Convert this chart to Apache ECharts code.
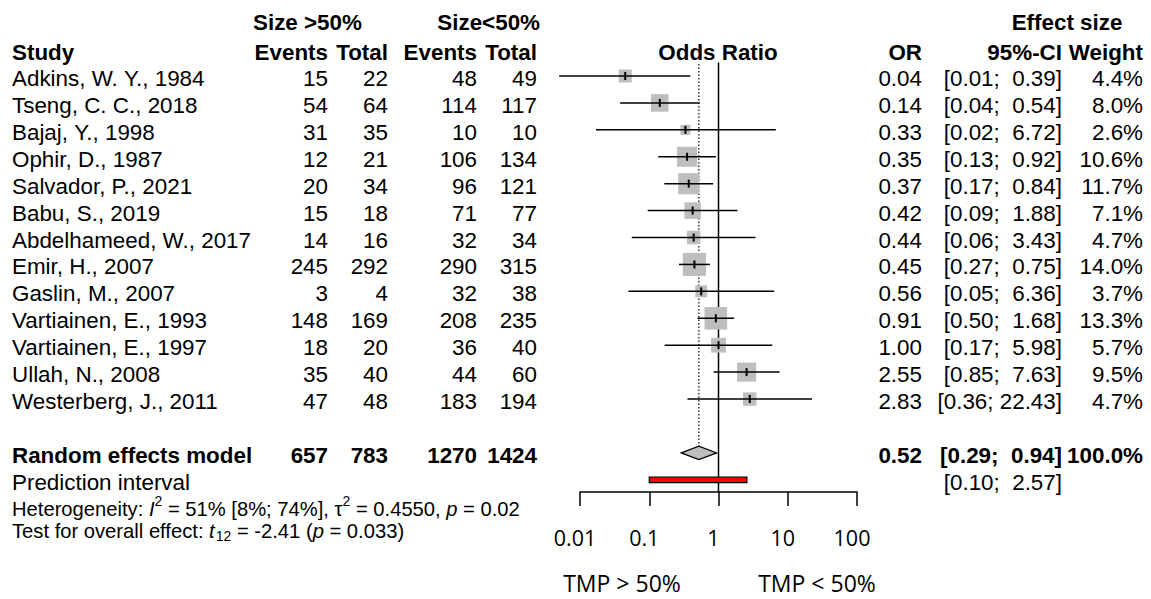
<!DOCTYPE html>
<html><head><meta charset="utf-8">
<script src="https://cdn.jsdelivr.net/npm/echarts@6/dist/echarts.min.js"></script>
<style>html,body{margin:0;padding:0;background:#fff}#c{width:1151px;height:599px}</style>
</head><body><div id="c"></div>
<script>
// ---------- data ----------
const studies = ['Adkins, W. Y., 1984','Tseng, C. C., 2018','Bajaj, Y., 1998','Ophir, D., 1987','Salvador, P., 2021','Babu, S., 2019','Abdelhameed, W., 2017','Emir, H., 2007','Gaslin, M., 2007','Vartiainen, E., 1993','Vartiainen, E., 1997','Ullah, N., 2008','Westerberg, J., 2011'];
const eventsHi = [15,54,31,12,20,15,14,245,3,148,18,35,47];
const totalHi  = [22,64,35,21,34,18,16,292,4,169,20,40,48];
const eventsLo = [48,114,10,106,96,71,32,290,32,208,36,44,183];
const totalLo  = [49,117,10,134,121,77,34,315,38,235,40,60,194];
const orValue  = [0.045,0.142,0.333,0.352,0.372,0.423,0.438,0.449,0.563,0.915,1.00,2.545,2.825];
const ciLower  = [0.005,0.038,0.017,0.135,0.165,0.095,0.056,0.269,0.050,0.498,0.167,0.849,0.356];
const ciUpper  = [0.392,0.537,6.72,0.918,0.838,1.881,3.43,0.751,6.36,1.68,5.98,7.63,22.43];
const weight   = [4.4,8.0,2.6,10.6,11.7,7.1,4.7,14.0,3.7,13.3,5.7,9.5,4.7];
const orLabel  = ['0.04','0.14','0.33','0.35','0.37','0.42','0.44','0.45','0.56','0.91','1.00','2.55','2.83'];
const loLabel  = ['0.01','0.04','0.02','0.13','0.17','0.09','0.06','0.27','0.05','0.50','0.17','0.85','0.36'];
const hiLabel  = ['0.39','0.54','6.72','0.92','0.84','1.88','3.43','0.75','6.36','1.68','5.98','7.63','22.43'];
const weightLabel = ['4.4%','8.0%','2.6%','10.6%','11.7%','7.1%','4.7%','14.0%','3.7%','13.3%','5.7%','9.5%','4.7%'];
const summaryTotals = [657, 783, 1270, 1424];
const summaryOR = [0.52, 0.29, 0.94];           // estimate, lower, upper
const summaryLabel = ['0.52','0.29','0.94','100.0%'];
const predInterval = [0.10, 2.57];
const predLabel = ['0.10','2.57'];
const tickLabels = ['0.01','0.1','1','10','100'];
const favourLabels = ['TMP > 50%','TMP < 50%'];

// ---------- layout ----------
const F = '"Liberation Sans", Arial, Helvetica, sans-serif';
const F2 = '"Open Sans", "Noto Sans", sans-serif';
const FS = 22.4;
const ROW0 = 76, ROWH = 26.92, AXIS_Y = 492;
const N = studies.length;
const RE_ROW = N + 1, PI_ROW = N + 2;
const yMin = -0.5, yMax = (AXIS_Y - ROW0) / ROWH;
const rowY = i => ROW0 + i * ROWH;
const TXT = 2.5;
const X = {study:12, ev1:328, tot1:388, ev2:477, tot2:537, or:922, ci:1062, w:1143};
const nb = s => String(s).replace(/ /g, '\u00a0');
const ci = (lo, hi) => nb('[' + lo + '; ') + String(hi).padStart(5, '\u00a0') + ']';

const chart = echarts.init(document.getElementById('c'), null, {renderer:'svg'});

function txt(s, x, y, align, bold, size, fam) {
  const sz = size || FS;
  return {type:'text', x:x, y:y, silent:true,
    style:{text:nb(s), fill:'#000', font:(bold?'bold ':'') + sz + 'px ' + (fam||F),
      lineHeight:sz, textAlign:align||'left', textVerticalAlign:'middle'}};
}
const g = [];
// header rows
g.push(txt('Size >50%', 253, 22, 'left', true));
g.push(txt('Size<50%', 540, 22, 'right', true));
g.push(txt('Effect size', 1067, 22, 'center', true));
const H2 = 52.5;
g.push(txt('Study', X.study, H2, 'left', true));
g.push(txt('Events', X.ev1, H2, 'right', true));
g.push(txt('Total', X.tot1, H2, 'right', true));
g.push(txt('Events', X.ev2, H2, 'right', true));
g.push(txt('Total', X.tot2, H2, 'right', true));
g.push(txt('Odds Ratio', 718, H2, 'center', true));
g.push(txt('OR', X.or, H2, 'right', true));
g.push(txt('95%-CI', X.ci, H2, 'right', true));
g.push(txt('Weight', X.w, H2, 'right', true));
// study rows
for (let i = 0; i < N; i++) {
  const y = rowY(i) + TXT;
  g.push(txt(studies[i], X.study, y, 'left'));
  g.push(txt(eventsHi[i], X.ev1, y, 'right'));
  g.push(txt(totalHi[i], X.tot1, y, 'right'));
  g.push(txt(eventsLo[i], X.ev2, y, 'right'));
  g.push(txt(totalLo[i], X.tot2, y, 'right'));
  g.push(txt(orLabel[i], X.or, y, 'right'));
  const c = txt('', X.ci, y, 'right'); c.style.text = ci(loLabel[i], hiLabel[i]); g.push(c);
  g.push(txt(weightLabel[i], X.w, y, 'right'));
}
// summary
{
  const y = rowY(RE_ROW) + TXT;
  g.push(txt('Random effects model', X.study, y, 'left', true));
  g.push(txt(summaryTotals[0], X.ev1, y, 'right', true));
  g.push(txt(summaryTotals[1], X.tot1, y, 'right', true));
  g.push(txt(summaryTotals[2], X.ev2, y, 'right', true));
  g.push(txt(summaryTotals[3], X.tot2, y, 'right', true));
  g.push(txt(summaryLabel[0], X.or, y, 'right', true));
  const s = txt('', X.ci, y, 'right', true); s.style.text = ci(summaryLabel[1], summaryLabel[2]); g.push(s);
  g.push(txt(summaryLabel[3], X.w, y, 'right', true));
  const y2 = rowY(PI_ROW) + TXT;
  g.push(txt('Prediction interval', X.study, y2, 'left'));
  const p = txt('', X.ci, y2, 'right'); p.style.text = ci(predLabel[0], predLabel[1]); g.push(p);
}
// heterogeneity / overall test, built from pieces (italic, super/subscripts)
const ctx = document.createElement('canvas').getContext('2d');
const HS = 20.2, SS = 14;
function pieces(list, x0, y) {
  let x = x0;
  for (const p of list) {
    const fs = p.s ? SS : HS;
    const font = (p.i ? 'italic ' : '') + fs + 'px ' + F;
    ctx.font = font;
    x += (p.gap || 0);
    const w = ctx.measureText(p.t).width;
    const dy = p.s === 'sup' ? -8.5 : p.s === 'sub' ? 4.5 : 0;
    g.push({type:'text', x:x, y:y + dy, silent:true,
      style:{text:nb(p.t), font:font, fill:'#000', lineHeight:fs, textAlign:'left', textVerticalAlign:'middle'}});
    x += w;
  }
}
pieces([{t:'Heterogeneity: '}, {t:'I', i:true}, {t:'2', s:'sup'}, {t:' = 51% [8%; 74%], \u03c4'},
        {t:'2', s:'sup'}, {t:' = 0.4550, '}, {t:'p', i:true}, {t:' = 0.02'}], X.study, 509);
pieces([{t:'Test for overall effect: '}, {t:'t', i:true}, {t:'12', s:'sub', gap:1}, {t:' = -2.41 ('},
        {t:'p', i:true}, {t:' = 0.033)'}], X.study, 531);
// favour labels
g.push(txt(favourLabels[0], 622, 583, 'center', false, 23, F2));
g.push(txt(favourLabels[1], 817, 583, 'center', false, 23, F2));

const studyData = studies.map((s, i) => [orValue[i], ciLower[i], ciUpper[i], weight[i], i]);

chart.setOption({
  animation:false,
  grid:{left:580, right:1151-857, top:rowY(yMin), bottom:599-AXIS_Y, containLabel:false},
  xAxis:{type:'log', logBase:10, min:0.01, max:100, position:'bottom',
    axisLine:{show:true, onZero:false, lineStyle:{color:'#000', width:1.5}},
    axisTick:{show:true, length:14, lineStyle:{color:'#000', width:1.5}},
    splitLine:{show:false}, minorTick:{show:false},
    axisLabel:{show:true, margin:34, color:'#000', fontSize:21.5, fontFamily:F2, padding:[0,10,0,0],
      showMinLabel:true, showMaxLabel:true,
      formatter:v => tickLabels[Math.round(Math.log10(v)) + 2]}},
  yAxis:{type:'value', inverse:true, min:yMin, max:yMax, show:false},
  graphic:g,
  series:[
    {type:'line', data:[[1, yMin], [1, yMax]], symbol:'none', silent:true,
      lineStyle:{color:'#000', width:1.5}, z:1},
    {type:'line', data:[[summaryOR[0], -0.45], [summaryOR[0], RE_ROW - 0.25]], symbol:'none', silent:true,
      lineStyle:{color:'#000', width:1.2, type:[1.5, 2]}, z:1},
    {type:'custom', clip:false, silent:true, z:3, data:studyData,
      encode:{x:[0,1,2], y:4},
      renderItem:(params, api) => {
        const c = api.coord([api.value(0), api.value(4)]);
        const l = api.coord([api.value(1), api.value(4)]);
        const h = api.coord([api.value(2), api.value(4)]);
        const s = 6.2 * Math.sqrt(api.value(3));
        return {type:'group', children:[
          {type:'rect', shape:{x:c[0]-s/2, y:c[1]-s/2, width:s, height:s}, style:{fill:'#bebebe'}},
          {type:'line', shape:{x1:l[0], y1:l[1], x2:h[0], y2:h[1]}, style:{stroke:'#000', lineWidth:1.5}},
          {type:'line', shape:{x1:c[0], y1:c[1]-4, x2:c[0], y2:c[1]+4}, style:{stroke:'#000', lineWidth:2}}
        ]};
      }},
    {type:'custom', clip:false, silent:true, z:3, data:[[summaryOR[0], summaryOR[1], summaryOR[2], RE_ROW]],
      encode:{x:[0,1,2], y:3},
      renderItem:(params, api) => {
        const c = api.coord([api.value(0), api.value(3)]);
        const l = api.coord([api.value(1), api.value(3)]);
        const h = api.coord([api.value(2), api.value(3)]);
        const hh = 6.7;
        return {type:'polygon', shape:{points:[[l[0], c[1]], [c[0], c[1]-hh], [h[0], c[1]], [c[0], c[1]+hh]]},
          style:{fill:'#bebebe', stroke:'#000', lineWidth:1.2}};
      }},
    {type:'custom', clip:false, silent:true, z:3, data:[[predInterval[0], predInterval[1], PI_ROW]],
      encode:{x:[0,1], y:2},
      renderItem:(params, api) => {
        const l = api.coord([api.value(0), api.value(2)]);
        const h = api.coord([api.value(1), api.value(2)]);
        const hh = 2.8;
        return {type:'rect', shape:{x:l[0], y:l[1]-hh, width:h[0]-l[0], height:2*hh},
          style:{fill:'#ff0000', stroke:'#000', lineWidth:1.2}};
      }}
  ]
});
</script></body></html>
